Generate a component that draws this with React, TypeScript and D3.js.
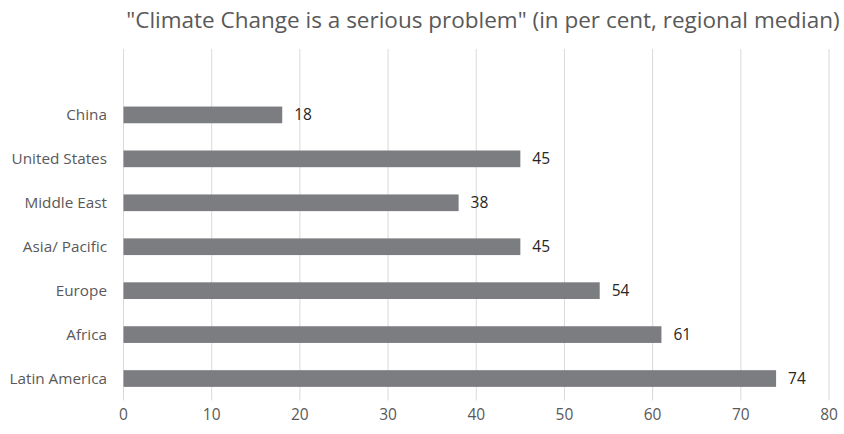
import React from "react";
import * as d3 from "d3";

const categories = ["China", "United States", "Middle East", "Asia/ Pacific", "Europe ", "Africa", "Latin America"];
const values = [18, 45, 38, 45, 54, 61, 74];
const xTicks = [0, 10, 20, 30, 40, 50, 60, 70, 80];
const title = "\"Climate Change is a serious problem\" (in per cent, regional median)";

const W = 844;
const H = 434;
const left = 123.5;
const right = 829;
const gridTop = 49;
const bottom = 400.5;
const font = "Open Sans, Liberation Sans, sans-serif";

export default function App() {
  const x = d3.scaleLinear().domain([0, 80]).range([left, right]);
  // an empty slot sits above the first category, as in the source layout
  const y = d3
    .scaleBand<string>()
    .domain(["", ...categories])
    .range([gridTop, bottom])
    .paddingInner(0.62)
    .paddingOuter(0.31);

  return (
    <svg width={W} height={H} style={{ position: "absolute", left: 0, top: 0, background: "#fff" }}>
      <text x={483} y={28} textAnchor="middle" fontFamily={font} fontSize={22.5} fill="#595959">
        {title}
      </text>
      {xTicks.map((t) => (
        <g key={t}>
          <line x1={x(t)} x2={x(t)} y1={gridTop} y2={bottom} stroke="#d9d9d9" strokeWidth={1} />
          <text x={x(t)} y={415} dy="0.35em" textAnchor="middle" fontFamily={font} fontSize={15.5} fill="#595959">
            {t}
          </text>
        </g>
      ))}
      {categories.map((c, i) => {
        const by = y(c)!;
        const bh = y.bandwidth();
        return (
          <g key={c}>
            <rect x={x(0)} y={by} width={x(values[i]) - x(0)} height={bh} fill="#7c7d80" />
            <text x={107} y={by + bh / 2} dy="0.35em" textAnchor="end" fontFamily={font} fontSize={15.3} fill="#595959">
              {c}
            </text>
            <text x={x(values[i]) + 12} y={by + bh / 2} dy="0.35em" fontFamily={font} fontSize={15.5} fill="#262626">
              {values[i]}
            </text>
          </g>
        );
      })}
    </svg>
  );
}
